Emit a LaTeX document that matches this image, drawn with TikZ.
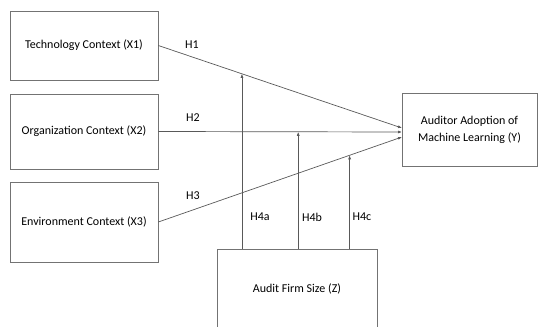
\documentclass[tikz,border=0pt]{standalone}
\usepackage{fontspec}
\setmainfont{Carlito}
\usetikzlibrary{arrows.meta}

\tikzset{
  box/.style={draw=black!55, line width=0.7pt, rectangle, inner sep=0pt,
    align=center, font=\fontsize{12}{17}\selectfont},
  link/.style={draw=black!65, line width=0.7pt, -{Latex[length=4pt,width=3pt]}},
  hyp/.style={inner sep=0pt, font=\fontsize{12}{14}\selectfont}
}

\begin{document}
\begin{tikzpicture}[x=1pt, y=-1pt]
    \clip (0,0) rectangle (539,327);

    % Cajas de las variables
    \node[box, minimum width=148pt, minimum height=69pt] (x1) at (84,45.5) {Technology Context (X1)};
    \node[box, minimum width=148pt, minimum height=75pt] (x2) at (84,131.5) {Organization Context (X2)};
    \node[box, minimum width=148pt, minimum height=80pt] (x3) at (84,222) {Environment Context (X3)};
    \node[box, minimum width=135pt, minimum height=73pt] (y) at (469.5,129.5) {Auditor Adoption of\\Machine Learning (Y)};
    \node[box, minimum width=160pt, minimum height=80pt] (z) at (297,289) {Audit Firm Size (Z)};

    % Puntos de llegada en Y
    \coordinate (y1) at (402,128);
    \coordinate (y2) at (402,132);
    \coordinate (y3) at (402,137);

    % Hipotesis directas
    \draw[link] (x1.east) -- (y1) coordinate[pos=0.343] (m1);
    \draw[link] (x2.east) -- (y2) coordinate[pos=0.574] (m2);
    \draw[link] (x3.east) -- (y3) coordinate[pos=0.785] (m3);

    % Moderacion
    \draw[link] (m1 |- z.north) -- (m1);
    \draw[link] (m2 |- z.north) -- (m2);
    \draw[link] (m3 |- z.north) -- (m3);

    % Etiquetas
    \node[hyp] (h1) at (192,45) {H1};
    \node[hyp] (h2) at (193,118) {H2};
    \node[hyp] (h3) at (193,196) {H3};
    \node[hyp] (h4a) at (260,217) {H4a};
    \node[hyp] (h4b) at (312,217) {H4b};
    \node[hyp] (h4c) at (362,217) {H4c};
\end{tikzpicture}
\end{document}
